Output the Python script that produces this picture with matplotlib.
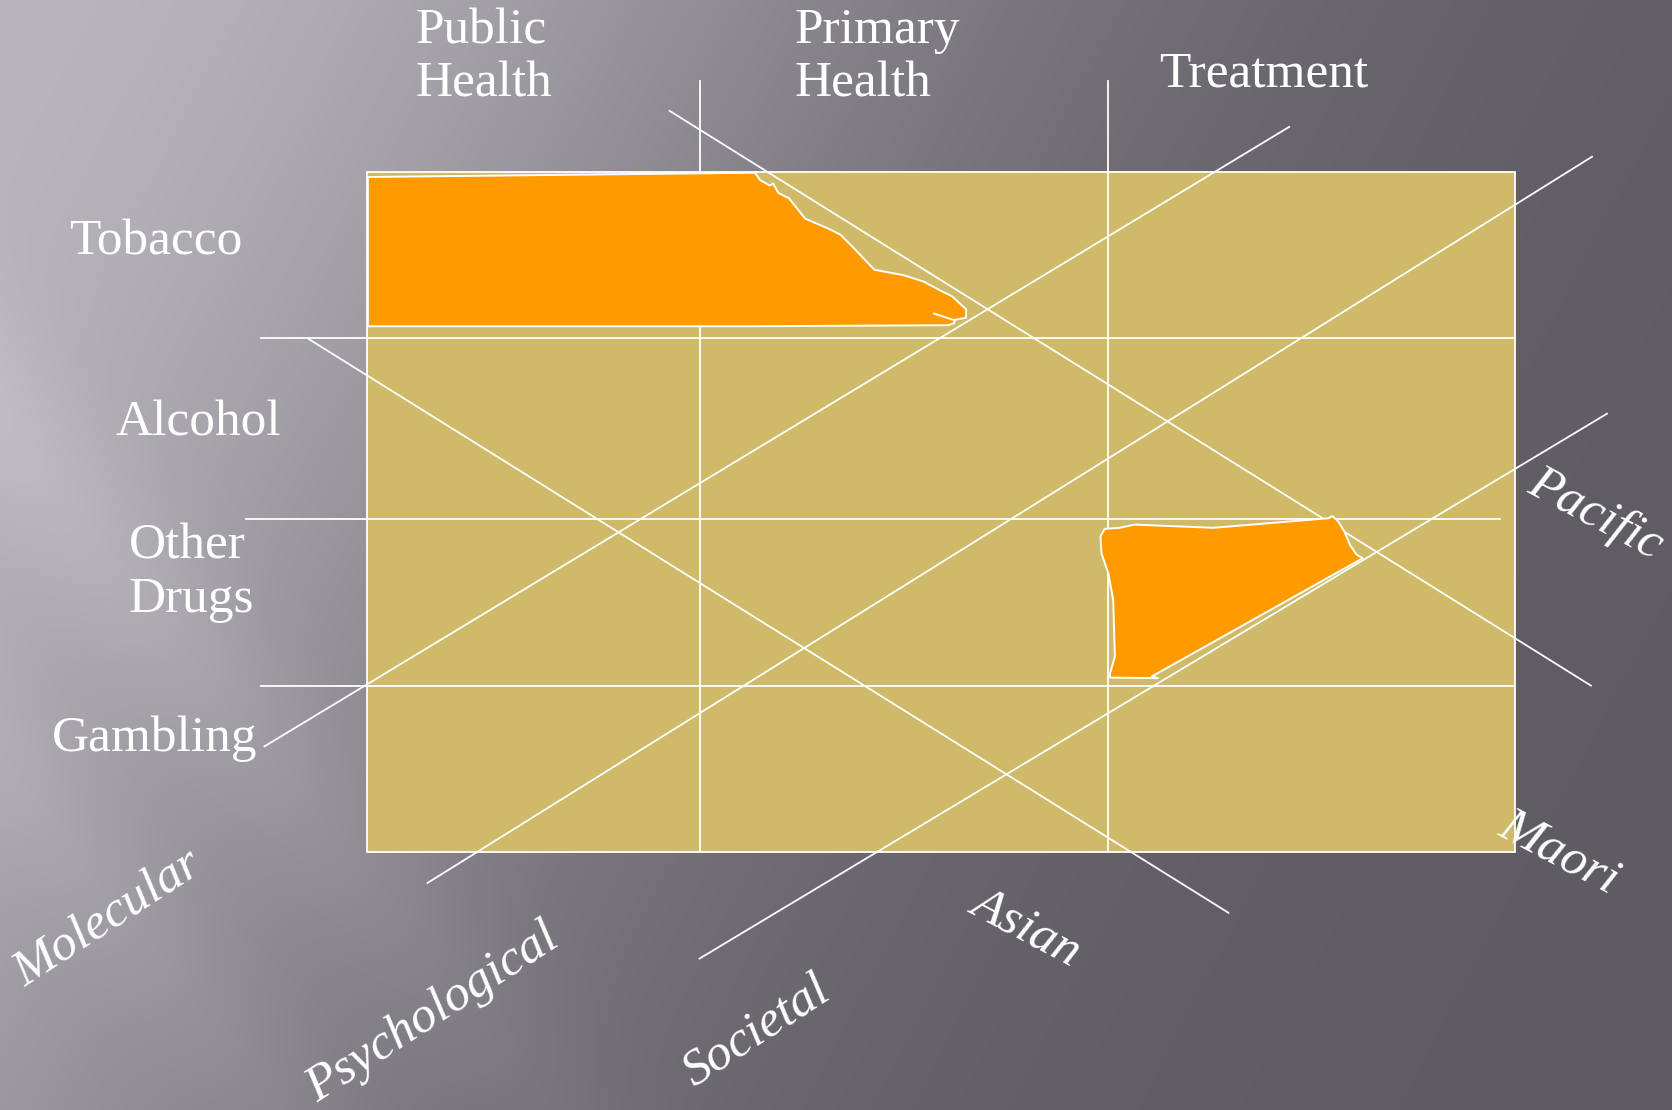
import numpy as np
import matplotlib.pyplot as plt
from matplotlib.patches import Polygon, Rectangle

# canvas coordinates (pixels of a 1568 x 1041 slide, y downwards)
W, H = 1568, 1041

# grid box
box = (344, 161, 1421, 799)  # left, top, right, bottom
row_lines = [(245, 1421, 317), (231, 1407, 487), (245, 1421, 643)]  # x0, x1, y
col_lines = [(656, 76, 799), (1039, 76, 799)]  # x, y0, y1

# diagonal "ethnicity" and "level" lines
diag_lines = [
    ((628, 104), (1492, 643)),
    ((288, 317), (1152, 856)),
    ((248, 700), (1209, 119)),
    ((401, 828), (1493, 147)),
    ((656, 899), (1507, 388)),
]

# highlighted areas
tobacco_area = [
    (345, 166), (708, 162), (713, 169), (722, 174), (725, 172), (730, 181),
    (740, 186), (755, 205), (776, 214), (788, 220), (801, 233), (820, 253),
    (847, 258), (866, 264), (881, 272), (893, 278), (906, 290), (906, 298),
    (895, 300), (895, 303), (889, 305), (702, 306), (345, 306),
]
tobacco_tail = [(876, 294), (894, 300)]
other_drugs_area = [
    (1036, 496), (1050, 495), (1064, 492), (1138, 495), (1246, 486),
    (1249.5, 484), (1255, 489), (1261, 499), (1266, 511), (1272, 520),
    (1278, 523.5), (1080, 634.5), (1086, 636), (1041, 635.5), (1041, 631.5),
    (1045.5, 616), (1044, 563), (1039.5, 538), (1033, 519), (1032, 503),
]

# labels: text, x, y, rotation
top_labels = [("Public\nHealth", 390, 54), ("Primary\nHealth", 745, 54), ("Treatment", 1087, 70)]
row_labels = [("Tobacco", 65, 227), ("Alcohol", 108, 397), ("Other\nDrugs", 121, 537), ("Gambling", 49, 693)]
slant_labels = [
    ("Molecular", 102, 862, 33),
    ("Psychological", 406, 950, 33),
    ("Societal", 710, 968, 33),
    ("Asian", 963, 870, -28),
    ("Maori", 1462, 800, -28),
    ("Pacific", 1496, 482, -28),
]

plt.rcParams["font.family"] = ["Liberation Serif", "DejaVu Serif"]

fig = plt.figure(figsize=(16.72, 11.10), dpi=100)
ax = fig.add_axes([0, 0, 1, 1])
ax.set_xlim(0, W)
ax.set_ylim(H, 0)
ax.axis("off")

# background: grey slide gradient, light in the top-left corner
yy, xx = np.mgrid[0:H:2, 0:W:2].astype(float)
r = 0.8 * xx + 0.42 * yy
p = 0.78 * xx - 0.63 * yy
b = 94 + 90 * np.exp(-(r / 700) ** 2)
b += 12 * np.exp(-((p + 250) / 70) ** 2) * np.exp(-(r / 900) ** 2)
b += 8 * np.exp(-((p + 450) / 60) ** 2) * np.exp(-(r / 900) ** 2)
img = np.dstack([b, b - 3, b + 5]) / 255.0
ax.imshow(np.clip(img, 0, 1), extent=[0, W, H, 0], aspect="auto", zorder=0)

lw = 1.3
x0, y0, x1, y1 = box
ax.add_patch(Rectangle((x0, y0), x1 - x0, y1 - y0, facecolor="#CFBA69",
                       edgecolor="none", zorder=1))

for xa, xb, y in row_lines:
    ax.plot([xa, xb], [y, y], color="white", lw=lw, zorder=2)
for x, ya, yb in col_lines:
    ax.plot([x, x], [ya, yb], color="white", lw=lw, zorder=2)
for (xa, ya), (xb, yb) in diag_lines:
    ax.plot([xa, xb], [ya, yb], color="white", lw=lw, zorder=2)

for pts in (tobacco_area, other_drugs_area):
    ax.add_patch(Polygon(pts, closed=True, facecolor="#FF9B00",
                         edgecolor="white", lw=1.4, joinstyle="round", zorder=3))
ax.plot(*zip(*tobacco_tail), color="white", lw=1.4, zorder=4)

ax.add_patch(Rectangle((x0, y0), x1 - x0, y1 - y0, facecolor="none",
                       edgecolor="white", lw=lw, zorder=4))

for txt, x, y in top_labels + row_labels:
    ax.text(x, y, txt, color="white", fontsize=37, ha="left", va="center",
            linespacing=1.2, zorder=5)
for txt, x, y, rot in slant_labels:
    ax.text(x, y, txt, color="white", fontsize=37, style="italic",
            ha="center", va="center", rotation=rot, rotation_mode="anchor", zorder=5)

fig.savefig("out.png", dpi=100)
